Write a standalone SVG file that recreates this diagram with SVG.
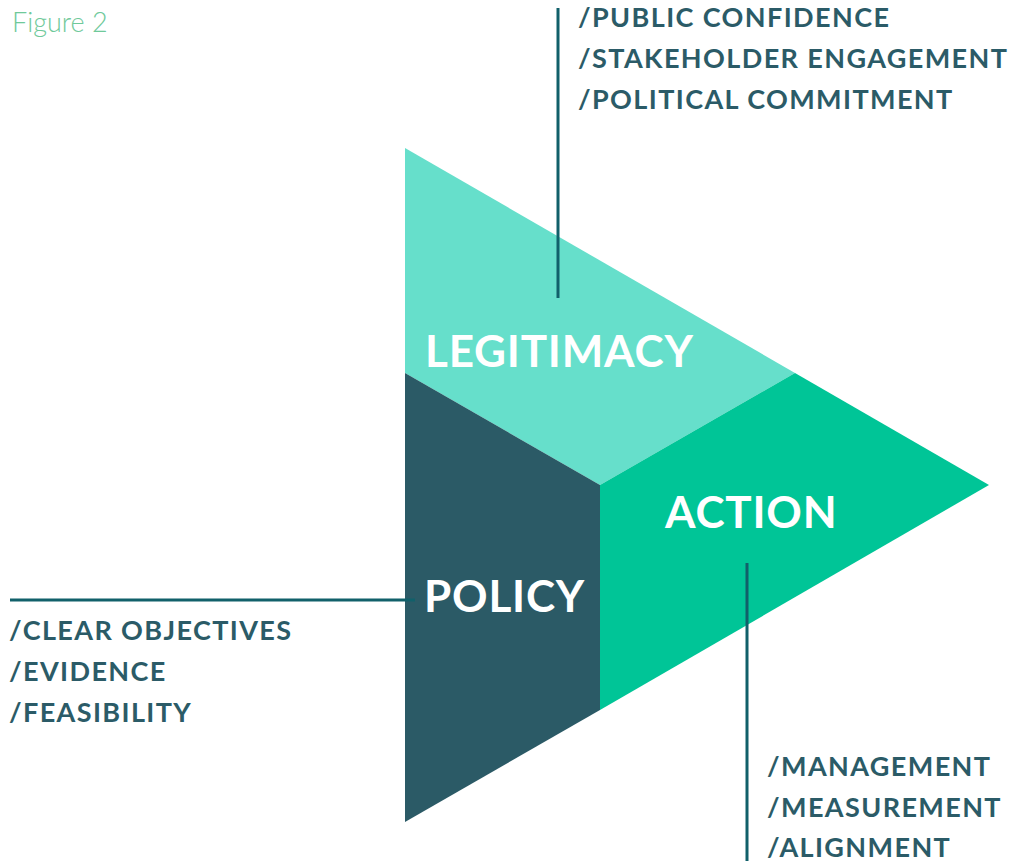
<svg xmlns="http://www.w3.org/2000/svg" width="1011" height="861" viewBox="0 0 1011 861">
<style>
.lbl{font-family:Lato,"Open Sans","Liberation Sans",sans-serif;font-weight:bold;fill:#2b5b67;font-size:27px;letter-spacing:1.4px}
.big{font-family:Lato,"Open Sans","Liberation Sans",sans-serif;font-weight:bold;fill:#ffffff;font-size:44px;letter-spacing:0.8px}
.ln{stroke:#11606a;stroke-width:3;fill:none}
</style>
<rect width="1011" height="861" fill="#ffffff"/>
<text x="12" y="32" font-family="Lato,'Open Sans','Liberation Sans',sans-serif" font-weight="300" font-size="27" fill="#6fc99a">Figure 2</text>
<g id="legitimacy">
<polygon points="405,148 795,373 600,485 405,373" fill="#66dfcb"/>
<text class="big" x="425" y="367">LEGITIMACY</text>
</g>
<g id="policy">
<polygon points="405,373 600,485 600,710 405,822" fill="#2b5a66"/>
<text class="big" x="424" y="612">POLICY</text>
</g>
<g id="action">
<polygon points="600,485 795,373 989,485 600,710" fill="#00c597"/>
<text class="big" x="665" y="528">ACTION</text>
</g>
<g id="connectors">
<line class="ln" x1="558" y1="8" x2="558" y2="298"/>
<line class="ln" x1="10" y1="600" x2="415" y2="600"/>
<line class="ln" x1="747" y1="563" x2="747" y2="861"/>
</g>
<g id="legitimacy-notes">
<text class="lbl" x="578" y="27">/PUBLIC CONFIDENCE</text>
<text class="lbl" x="578" y="68">/STAKEHOLDER ENGAGEMENT</text>
<text class="lbl" x="578" y="109">/POLITICAL COMMITMENT</text>
</g>
<g id="policy-notes">
<text class="lbl" x="9" y="640">/CLEAR OBJECTIVES</text>
<text class="lbl" x="9" y="681">/EVIDENCE</text>
<text class="lbl" x="9" y="722">/FEASIBILITY</text>
</g>
<g id="action-notes">
<text class="lbl" x="767" y="776">/MANAGEMENT</text>
<text class="lbl" x="767" y="817">/MEASUREMENT</text>
<text class="lbl" x="767" y="857">/ALIGNMENT</text>
</g>
</svg>
